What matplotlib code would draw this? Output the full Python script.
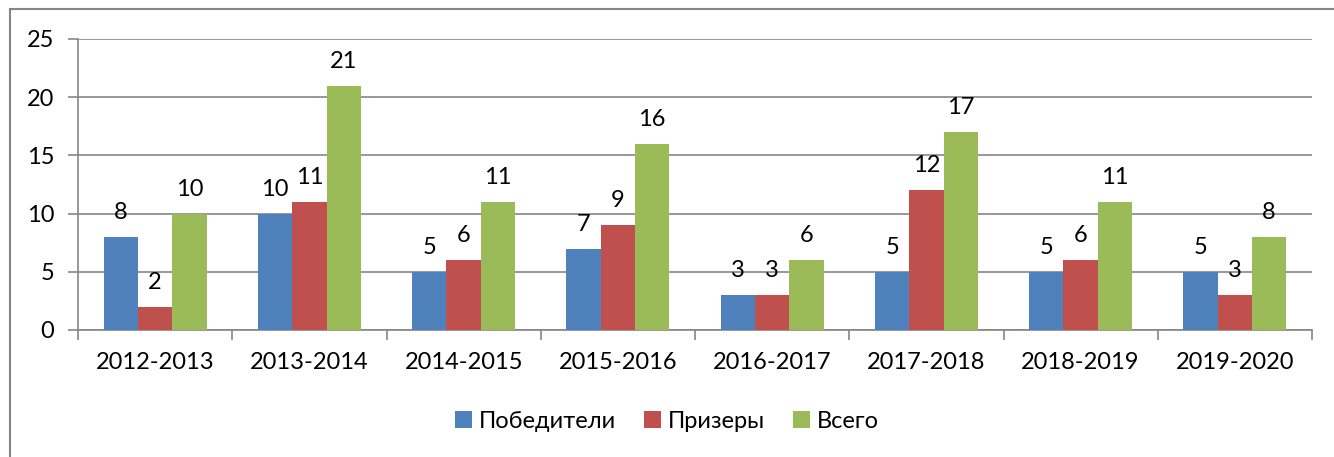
import matplotlib
matplotlib.use("Agg")
import matplotlib.pyplot as plt
from matplotlib.patches import Rectangle
import numpy as np

plt.rcParams['font.family'] = ['Lato', 'Open Sans', 'DejaVu Sans']

years = ['2012-2013', '2013-2014', '2014-2015', '2015-2016',
         '2016-2017', '2017-2018', '2018-2019', '2019-2020']
winners = [8, 10, 5, 7, 3, 5, 5, 5]
prizers = [2, 11, 6, 9, 3, 12, 6, 3]
total = [10, 21, 11, 16, 6, 17, 11, 8]
series_names = ['Победители', 'Призеры', 'Всего']
colors = ['#4F81BD', '#C0504D', '#9BBB59']
grid_col = '#868686'
fs = 17

fig = plt.figure(figsize=(13.34, 4.57), dpi=100)
# outer chart border (Excel style)
fig.patches.append(Rectangle((10/1334, -0.1), 1.2, 1 - 9/457 + 0.1,
                             transform=fig.transFigure, fill=False,
                             edgecolor=grid_col, linewidth=1.5))
ax = fig.add_axes([78/1334, 1 - 330/457, (1312 - 78)/1334, (330 - 39)/457])

x = np.arange(len(years))
w = 1 / 4.5
for i, (vals, name) in enumerate(zip([winners, prizers, total], series_names)):
    bars = ax.bar(x + (i - 1) * w, vals, w, color=colors[i], label=name,
                  linewidth=0, zorder=3)
    for b, v in zip(bars, vals):
        ax.annotate(str(v), (b.get_x() + b.get_width()/2, v),
                    xytext=(0, 10), textcoords='offset points',
                    ha='center', va='bottom', fontsize=fs, zorder=4)

ax.set_xlim(-0.5, len(years) - 0.5)
ax.set_ylim(0, 25)
ax.set_yticks(range(0, 26, 5))
ax.yaxis.grid(True, color=grid_col, linewidth=1.2, zorder=0)
ax.set_xticks(x)
ax.set_xticklabels(years)
ax.set_xticks(np.arange(-0.5, len(years)), minor=True)
ax.tick_params(axis='x', which='major', length=0, pad=16, labelsize=fs)
ax.tick_params(axis='x', which='minor', length=7, color=grid_col, width=1.2)
ax.tick_params(axis='y', length=7, color=grid_col, width=1.2, labelsize=fs, pad=10)
for s in ['top', 'right']:
    ax.spines[s].set_visible(False)
for s in ['left', 'bottom']:
    ax.spines[s].set_color(grid_col)
    ax.spines[s].set_linewidth(1.2)

fig.legend(loc='center', bbox_to_anchor=(0.5, 1 - 421/457), ncol=3,
           frameon=False, fontsize=fs, handlelength=0.7, handleheight=0.7,
           handletextpad=0.3, columnspacing=1.2)

fig.savefig('out.png', dpi=100)
